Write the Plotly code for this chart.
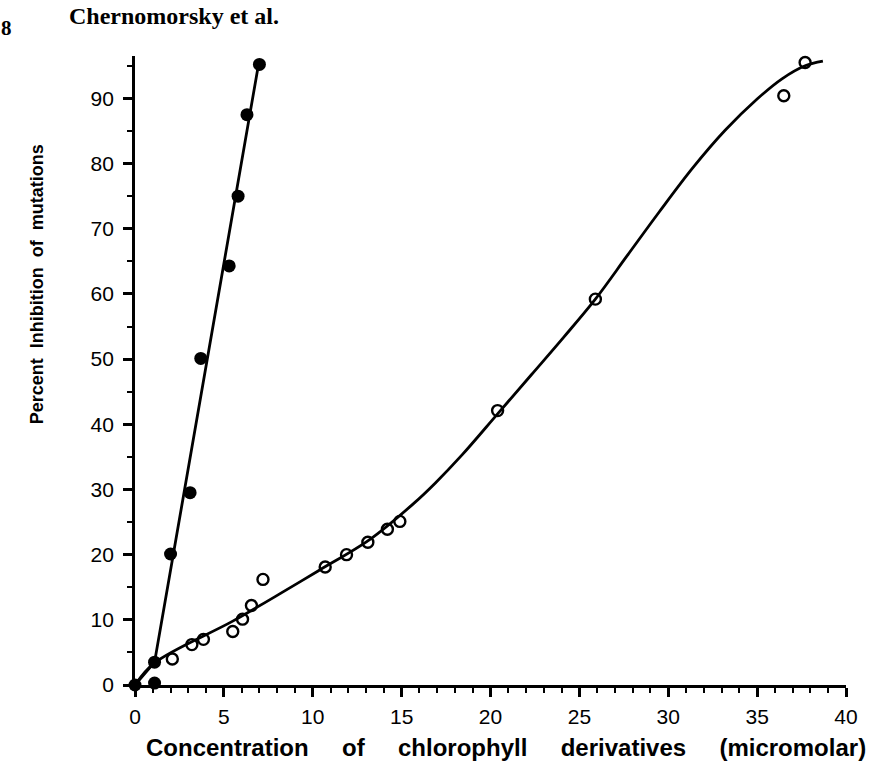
import plotly.graph_objects as go

# Filled circles (fast-acting derivative)
filled_x = [0.0, 1.1, 1.1, 2.0, 3.1, 3.7, 5.3, 5.8, 6.3, 7.0]
filled_y = [0.0, 0.3, 3.5, 20.1, 29.5, 50.1, 64.3, 75.0, 87.5, 95.2]

# Open circles (slow-acting derivative)
open_x = [2.1, 3.2, 3.85, 5.5, 6.05, 6.55, 7.2, 10.7, 11.9, 13.1, 14.2, 14.9, 20.4, 25.9, 36.5, 37.7]
open_y = [4.0, 6.2, 7.0, 8.2, 10.1, 12.2, 16.2, 18.1, 20.0, 21.9, 23.9, 25.1, 42.1, 59.2, 90.4, 95.5]

# Hand-drawn fitted curves
fit_fast_x = [0.0, 1.1, 7.0]
fit_fast_y = [0.0, 3.5, 96.0]
fit_slow_x = [0.0, 1.1, 5.5, 8.4, 10.3, 13.2, 15.7, 16.9, 18.4, 20.4, 22.3, 24.1, 25.9, 27.7, 29.5, 31.4, 33.2, 35.0, 36.4, 37.7, 38.7]
fit_slow_y = [0.0, 3.4, 9.8, 14.4, 17.5, 22.3, 27.9, 31.0, 35.3, 41.6, 47.6, 53.3, 59.2, 65.9, 72.6, 79.4, 85.1, 89.9, 93.0, 95.0, 95.7]

x_ticks = [0, 5, 10, 15, 20, 25, 30, 35, 40]
y_ticks = [0, 10, 20, 30, 40, 50, 60, 70, 80, 90]

gx = "\u00a0" * 5
x_title = gx.join(["Concentration", "of", "chlorophyll", "derivatives", "(micromolar)"])
y_title = "\u00a0\u00a0".join(["Percent", "Inhibition", "of", "mutations"])

fig = go.Figure()
fig.add_trace(go.Scatter(x=fit_fast_x, y=fit_fast_y, mode="lines",
                         line=dict(color="black", width=2.8), cliponaxis=False,
                         showlegend=False, hoverinfo="skip"))
fig.add_trace(go.Scatter(x=fit_slow_x, y=fit_slow_y, mode="lines",
                         line=dict(color="black", width=2.8, shape="spline", smoothing=1.0),
                         cliponaxis=False, showlegend=False, hoverinfo="skip"))
fig.add_trace(go.Scatter(x=filled_x, y=filled_y, mode="markers",
                         marker=dict(symbol="circle", size=13, color="black"),
                         cliponaxis=False, showlegend=False))
fig.add_trace(go.Scatter(x=open_x, y=open_y, mode="markers",
                         marker=dict(symbol="circle-open", size=11, color="black",
                                     line=dict(width=2.4, color="black")),
                         cliponaxis=False, showlegend=False))

tick_font = dict(family="Liberation Sans, Arial, sans-serif", size=21, color="black")

fig.update_xaxes(range=[0, 40], tickvals=x_ticks, ticktext=[str(v) for v in x_ticks],
                 showline=True, linecolor="black", linewidth=2.8, showgrid=False, zeroline=False,
                 ticks="outside", ticklen=9, tickwidth=2.6, tickcolor="black",
                 minor=dict(dtick=1, ticks="outside", ticklen=5, tickwidth=2.2, tickcolor="black"),
                 tickfont=tick_font, ticklabelstandoff=2)
fig.update_yaxes(range=[0, 96.5], tickvals=y_ticks, ticktext=[str(v) for v in y_ticks],
                 showline=True, linecolor="black", linewidth=2.8, showgrid=False, zeroline=False,
                 ticks="outside", ticklen=9, tickwidth=2.6, tickcolor="black",
                 minor=dict(dtick=5, ticks="outside", ticklen=5, tickwidth=2.2, tickcolor="black"),
                 tickfont=tick_font, ticklabelstandoff=5)

fig.update_layout(
    width=885, height=774,
    margin=dict(l=135, r=39, t=56, b=89, autoexpand=False),
    paper_bgcolor="white", plot_bgcolor="white",
    annotations=[
        dict(text=x_title, xref="paper", yref="paper", x=0.522, y=-0.1,
             showarrow=False, xanchor="center", yanchor="middle",
             font=dict(family="Liberation Sans, Arial, sans-serif", size=24, color="black", weight="bold")),
        dict(text=y_title, xref="paper", yref="paper", x=-0.138, y=0.637, textangle=-90,
             showarrow=False, xanchor="center", yanchor="middle",
             font=dict(family="Liberation Sans, Arial, sans-serif", size=18, color="black", weight="bold")),
        dict(text="8", xref="paper", yref="paper", x=-0.181, y=1.045,
             showarrow=False, xanchor="center", yanchor="middle",
             font=dict(family="Liberation Serif, Times New Roman, serif", size=21, color="black", weight="bold")),
        dict(text="Chernomorsky et al.", xref="paper", yref="paper", x=0.055, y=1.064,
             showarrow=False, xanchor="center", yanchor="middle",
             font=dict(family="Liberation Serif, Times New Roman, serif", size=24, color="black", weight="bold")),
    ],
)

fig.write_html("out.html")
